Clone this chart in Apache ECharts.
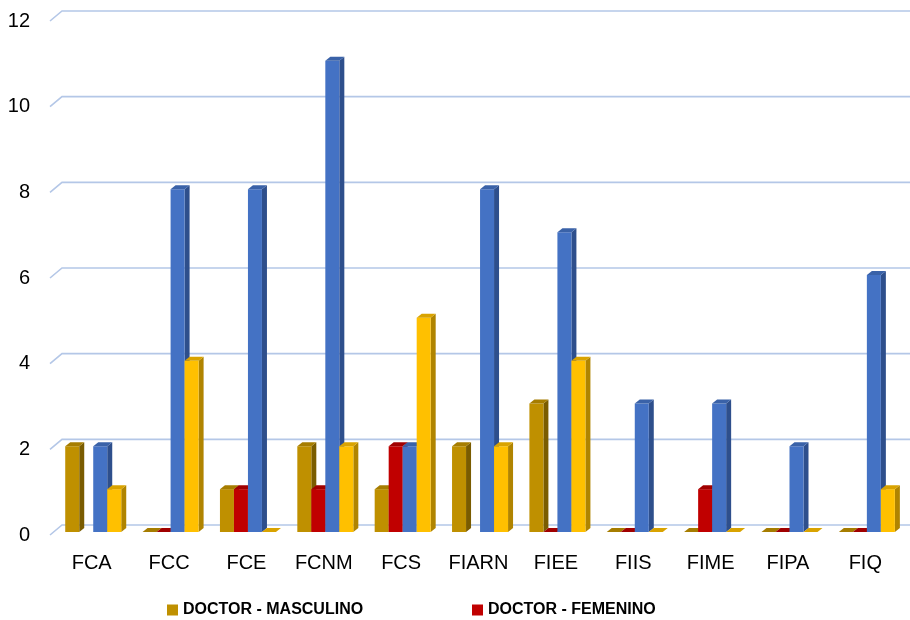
<!DOCTYPE html>
<html>
<head>
<meta charset="utf-8">
<script src="https://cdn.jsdelivr.net/npm/echarts@6/dist/echarts.min.js"></script>
<style>
html,body{margin:0;padding:0;background:#fff;}
#chart{width:910px;height:620px;}
</style>
</head>
<body>
<div id="chart"></div>
<script>
var categories = ['FCA','FCC','FCE','FCNM','FCS','FIARN','FIEE','FIIS','FIME','FIPA','FIQ'];
var doctorMasculino = [2, 0, 1, 2, 1, 2, 3, 0, 0, 0, 0];
var doctorFemenino  = [null, 0, 1, 1, 2, null, 0, 0, 1, 0, 0];
var maestroMasculino = [2, 8, 8, 11, 2, 8, 7, 3, 3, 2, 6];
var maestroFemenino  = [1, 4, 0, 2, 5, 2, 4, 0, 0, 0, 1];
var yTicks = [0, 2, 4, 6, 8, 10, 12];

var FONT = "'Liberation Sans',Arial,sans-serif";

var seriesDefs = [
  {name:'DOCTOR - MASCULINO', data:doctorMasculino, front:'#BF9000', side:'#7A5C00', top:'#A67D00'},
  {name:'DOCTOR - FEMENINO', data:doctorFemenino, front:'#C00000', side:'#850000', top:'#A00000'},
  {name:'MAESTRO - MASCULINO', data:maestroMasculino, front:'#4472C4', side:'#2E4F8C', top:'#3A62A8'},
  {name:'MAESTRO - FEMENINO', data:maestroFemenino, front:'#FFC000', side:'#B08400', top:'#D9A300'}
];

var chart = echarts.init(document.getElementById('chart'), null, {renderer:'canvas'});

function makeBarRender(idx, def){
  return function(params, api){
    var v = api.value(1);
    if (v === null || v === undefined || isNaN(v)) return;
    var ci = api.value(0);
    var base = api.coord([ci, 0]);
    var topP = api.coord([ci, v]);
    var band = api.size([1, 0])[0];
    var w = band * 0.181;
    var cx = base[0] + band * 0.02;
    var x = cx - 2 * w + idx * w;
    var shiftY = -3;
    var yb = base[1] + shiftY;
    var yt = topP[1] + shiftY;
    var dx = 5, dy = -4;
    var children = [];
    if (yb - yt > 0.5) {
      children.push({type:'polygon', shape:{points:[[x+w,yb],[x+w+dx,yb+dy],[x+w+dx,yt+dy],[x+w,yt]]}, style:{fill:def.side}});
      children.push({type:'rect', shape:{x:x, y:yt, width:w, height:yb-yt}, style:{fill:def.front}});
    }
    children.push({type:'polygon', shape:{points:[[x,yt],[x+w,yt],[x+w+dx,yt+dy],[x+dx,yt+dy]]}, style:{fill:def.top}});
    return {type:'group', children:children};
  };
}

var series = [];
series.push({
  type:'custom',
  name:'grid',
  silent:true,
  z:0,
  data: yTicks.map(function(t){ return [0, t]; }),
  renderItem: function(params, api){
    var cs = params.coordSys;
    var p = api.coord([0, api.value(1)]);
    var x0 = cs.x - 3;
    var y = p[1];
    return {type:'polyline', shape:{points:[[x0, y],[x0+12, y-10],[cs.x+cs.width+20, y-10]]},
      style:{stroke:'#B4C7E7', lineWidth:1.6, fill:null}};
  }
});
seriesDefs.forEach(function(def, i){
  series.push({
    type:'custom',
    name:def.name,
    z:2+i,
    itemStyle:{color:def.front},
    data: def.data.map(function(v, j){ return [j, v]; }),
    renderItem: makeBarRender(i, def)
  });
});

var option = {
  animation:false,
  backgroundColor:'#ffffff',
  grid:{left:53, top:21, width:851, height:514},
  legend:[
    {data:[{name:'DOCTOR - MASCULINO', icon:'rect'}], left:162, top:597, itemWidth:11, itemHeight:11, itemGap:5,
     textStyle:{fontFamily:FONT, fontWeight:'bold', fontSize:16, color:'#000'}},
    {data:[{name:'DOCTOR - FEMENINO', icon:'rect'}], left:467, top:597, itemWidth:11, itemHeight:11, itemGap:5,
     textStyle:{fontFamily:FONT, fontWeight:'bold', fontSize:16, color:'#000'}}
  ],
  xAxis:{
    type:'category',
    data:categories,
    axisLine:{show:false},
    axisTick:{show:false},
    axisLabel:{fontFamily:FONT, fontSize:20, color:'#000', margin:18, interval:0}
  },
  yAxis:{
    type:'value',
    min:0, max:12, interval:2,
    axisLine:{show:false},
    axisTick:{show:false},
    splitLine:{show:false},
    axisLabel:{fontFamily:FONT, fontSize:20, color:'#000', margin:23}
  },
  series:series
};
chart.setOption(option);
</script>
</body>
</html>
